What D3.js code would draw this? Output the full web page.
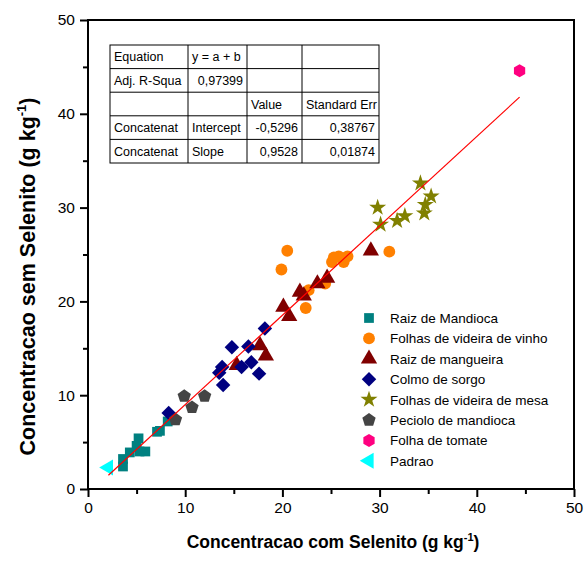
<!DOCTYPE html>
<html>
<head>
<meta charset="utf-8">
<script src="https://cdn.jsdelivr.net/npm/d3@7"></script>
<style>
  body { margin: 0; background: #fff; }
  svg { font-family: "Liberation Sans", Arial, sans-serif; }
</style>
</head>
<body>
<svg id="chart" width="585" height="563"></svg>
<script>
// ---- data ----
const raizMandioca = [[3.6,2.4],[3.6,3.2],[4.3,3.9],[5.0,4.6],[5.2,5.4],[5.3,4.0],[5.9,4.0],[7.1,6.1],[7.4,6.2],[8.2,7.2]];
const folhasVinho = [[19.9,23.4],[20.5,25.4],[22.4,19.3],[22.7,21.2],[24.4,21.9],[25.1,24.2],[25.3,24.7],[25.8,24.8],[26.3,24.2],[26.7,24.8],[31.0,25.3]];
const raizMangueira = [[15.3,13.2],[17.7,15.3],[18.3,14.2],[20.1,19.4],[20.7,18.4],[21.8,21.0],[22.2,20.6],[23.6,21.9],[24.6,22.5],[29.1,25.4]];
const colmoSorgo = [[8.3,8.1],[13.5,12.4],[13.8,13.0],[13.9,11.1],[14.8,15.1],[15.8,13.0],[16.5,15.2],[16.8,13.5],[17.6,12.3],[18.2,17.1]];
const folhasMesa = [[29.8,30.0],[30.1,28.2],[31.8,28.6],[32.6,29.1],[34.2,32.6],[34.6,29.4],[34.7,30.3],[35.3,31.2]];
const pecioloMandioca = [[9.0,7.4],[9.9,9.9],[10.7,8.7],[12.0,9.9]];
const folhaTomate = [[44.4,44.6]];
const padrao = [[2.1,2.3]];

const seriesNames = ["Raiz de Mandioca", "Folhas de videira de vinho", "Raiz de mangueira", "Colmo de sorgo",
  "Folhas de  videira de mesa", "Peciolo de mandioca", "Folha de tomate", "Padrao"];
const seriesData = [raizMandioca, folhasVinho, raizMangueira, colmoSorgo, folhasMesa, pecioloMandioca, folhaTomate, padrao];
const seriesColors = ["#008080", "#FF8000", "#800000", "#000080", "#808000", "#444444", "#FF0080", "#00FFFF"];

const xTicks = [0, 10, 20, 30, 40, 50];
const yTicks = [0, 10, 20, 30, 40, 50];
const fitIntercept = -0.5296;
const fitSlope = 0.9528;

const tableRows = [
  ["Equation", "y = a + b", "", ""],
  ["Adj. R-Squa", "0,97399", "", ""],
  ["", "", "Value", "Standard Err"],
  ["Concatenat", "Intercept", "-0,5296", "0,38767"],
  ["Concatenat", "Slope", "0,9528", "0,01874"]
];

// ---- chart setup ----
const svg = d3.select("#chart");
const plotLeft = 88, plotRight = 574, plotTop = 20, plotBottom = 489;

const x = d3.scaleLinear().domain([0, 50]).range([plotLeft, plotRight]);
const y = d3.scaleLinear().domain([0, 50]).range([plotBottom, plotTop]);

// marker shapes
function polygon(n, r, rot) {
  const pts = d3.range(n).map(i => {
    const a = rot + i * 2 * Math.PI / n;
    return [r * Math.cos(a), r * Math.sin(a)];
  });
  return "M" + pts.map(p => p.join(",")).join("L") + "Z";
}
const shapes = [
  { d: d3.symbol(d3.symbolSquare, 95)(), rot: 0 },
  { d: d3.symbol(d3.symbolCircle, 110)(), rot: 0 },
  { d: d3.symbol(d3.symbolTriangle, 115)(), rot: 0 },
  { d: d3.symbol(d3.symbolSquare, 105)(), rot: 45 },
  { d: d3.symbol(d3.symbolStar, 90)(), rot: 0 },
  { d: polygon(5, 7, -Math.PI / 2), rot: 0 },
  { d: polygon(6, 6.5, -Math.PI / 2), rot: 0 },
  { d: d3.symbol(d3.symbolTriangle, 110)(), rot: -90 }
];

// frame
svg.append("rect")
  .attr("x", plotLeft).attr("y", plotTop)
  .attr("width", plotRight - plotLeft).attr("height", plotBottom - plotTop)
  .attr("fill", "none").attr("stroke", "#000").attr("stroke-width", 2);

// axes
const xAxis = svg.append("g").attr("transform", `translate(0,${plotBottom})`)
  .call(d3.axisBottom(x).tickValues(xTicks).tickSize(8).tickPadding(5));
const yAxis = svg.append("g").attr("transform", `translate(${plotLeft},0)`)
  .call(d3.axisLeft(y).tickValues(yTicks).tickSize(8).tickPadding(5));
[xAxis, yAxis].forEach(g => {
  g.select(".domain").remove();
  g.selectAll("line").attr("stroke-width", 2);
  g.selectAll("text").attr("font-size", 15.5).attr("font-family", "Liberation Sans, Arial, sans-serif").attr("fill", "#000");
});
// minor ticks
svg.append("g").attr("transform", `translate(0,${plotBottom})`)
  .call(d3.axisBottom(x).tickValues([5, 15, 25, 35, 45]).tickSize(5).tickFormat(""))
  .call(g => g.select(".domain").remove())
  .selectAll("line").attr("stroke-width", 2);
svg.append("g").attr("transform", `translate(${plotLeft},0)`)
  .call(d3.axisLeft(y).tickValues([5, 15, 25, 35, 45]).tickSize(5).tickFormat(""))
  .call(g => g.select(".domain").remove())
  .selectAll("line").attr("stroke-width", 2);

// axis titles
const xt = svg.append("text")
  .attr("x", (plotLeft + plotRight) / 2 + 2).attr("y", 548)
  .attr("text-anchor", "middle").attr("font-weight", "bold").attr("font-size", 17.5);
xt.append("tspan").text("Concentracao com Selenito (g kg");
xt.append("tspan").text("-1").attr("font-size", 11).attr("dy", -7);
xt.append("tspan").text(")").attr("dy", 7);

const yt = svg.append("text")
  .attr("transform", `translate(35,${(plotTop + plotBottom) / 2 + 22}) rotate(-90)`)
  .attr("text-anchor", "middle").attr("font-weight", "bold").attr("font-size", 21.5);
yt.append("tspan").text("Concentracao sem Selenito (g kg");
yt.append("tspan").text("-1").attr("font-size", 13).attr("dy", -9);
yt.append("tspan").text(")").attr("dy", 9);

// points
seriesData.forEach((data, i) => {
  svg.append("g").selectAll("path")
    .data(data)
    .join("path")
    .attr("d", shapes[i].d)
    .attr("transform", d => `translate(${x(d[0])},${y(d[1])}) rotate(${shapes[i].rot})`)
    .attr("fill", seriesColors[i]);
});

// linear fit line
const allX = seriesData.flat().map(d => d[0]);
const fitX = d3.extent(allX);
svg.append("line")
  .attr("x1", x(fitX[0])).attr("y1", y(fitIntercept + fitSlope * fitX[0]))
  .attr("x2", x(fitX[1])).attr("y2", y(fitIntercept + fitSlope * fitX[1]))
  .attr("stroke", "#FF0000").attr("stroke-width", 1.2);

// legend
const legend = svg.append("g").attr("transform", "translate(369,318)");
seriesNames.forEach((name, i) => {
  const row = legend.append("g").attr("transform", `translate(0,${i * 20.4})`);
  row.append("path").attr("d", shapes[i].d)
    .attr("transform", `rotate(${shapes[i].rot})`)
    .attr("fill", seriesColors[i]);
  row.append("text").attr("x", 21).attr("y", 5).attr("font-size", 13.5).text(name);
});

// fit table
const colEdges = [110, 188, 247, 302, 379];
const rowH = 23.6, tableTop = 45;
const table = svg.append("g");
table.append("rect")
  .attr("x", colEdges[0]).attr("y", tableTop)
  .attr("width", colEdges[4] - colEdges[0]).attr("height", rowH * tableRows.length)
  .attr("fill", "#fff").attr("stroke", "#000").attr("stroke-width", 1);
colEdges.slice(1, 4).forEach(cx => {
  table.append("line").attr("x1", cx).attr("x2", cx)
    .attr("y1", tableTop).attr("y2", tableTop + rowH * tableRows.length)
    .attr("stroke", "#000");
});
d3.range(1, tableRows.length).forEach(r => {
  table.append("line").attr("x1", colEdges[0]).attr("x2", colEdges[4])
    .attr("y1", tableTop + r * rowH).attr("y2", tableTop + r * rowH)
    .attr("stroke", "#000");
});
tableRows.forEach((row, r) => {
  row.forEach((cell, c) => {
    if (!cell) return;
    const numeric = /^-?[0-9]/.test(cell);
    table.append("text")
      .attr("x", numeric ? colEdges[c + 1] - 4 : colEdges[c] + 4)
      .attr("y", tableTop + r * rowH + rowH / 2 + 4.5)
      .attr("text-anchor", numeric ? "end" : "start")
      .attr("font-size", 12.5)
      .text(cell);
  });
});
</script>
</body>
</html>
